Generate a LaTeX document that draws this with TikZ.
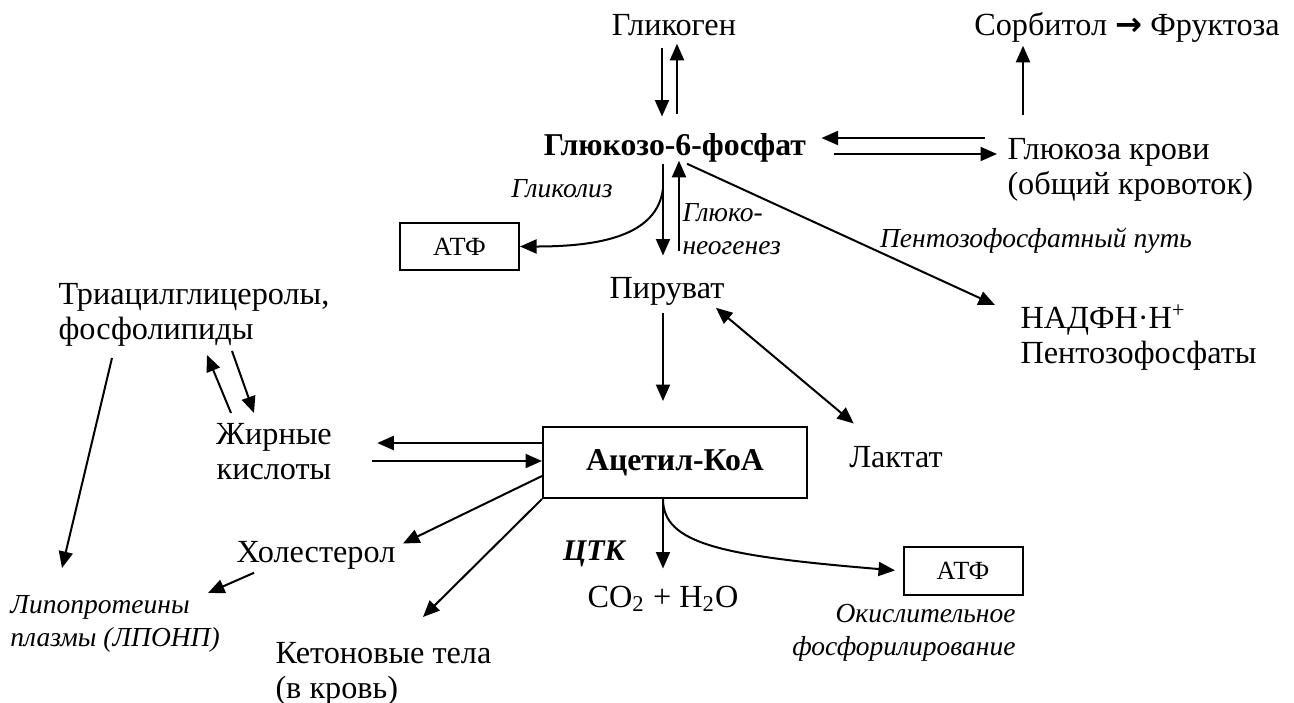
\documentclass[tikz,border=0pt]{standalone}
\usepackage{fontspec}
\setmainfont{Liberation Serif}
\newfontfamily\arrowfont{DejaVu Sans}
\usetikzlibrary{arrows.meta,calc}

\begin{document}
\begin{tikzpicture}[
    x=0.4pt, y=-0.4pt,
    line cap=butt, line join=miter,
    txt/.style={inner sep=0pt, anchor=base, text height=8.6pt, text depth=2.5pt,
        font=\fontsize{12.9}{14}\selectfont},
    multi/.style={inner sep=0pt, anchor=north west, align=left,
        font=\fontsize{12.9}{14}\selectfont},
    note/.style={inner sep=0pt, font=\fontsize{11}{13}\selectfont\itshape},
    atpbox/.style={draw, line width=0.8pt, inner sep=0pt, minimum width=47.6pt,
        minimum height=19pt, font=\fontsize{10.5}{12}\selectfont},
    arr/.style={line width=0.8pt, -{Triangle[length=6.6pt,width=5.6pt]}},
    darr/.style={line width=0.8pt, {Triangle[length=6.6pt,width=5.6pt]}-{Triangle[length=6.6pt,width=5.6pt]}},
]
\useasboundingbox (0,0) rectangle (1294,702);

% Metabolites
\node[txt] (gly) at (674,35) {Гликоген};
\node[txt] (sorb) at (1127,35) {Сорбитол {\arrowfont\bfseries →} Фруктоза};
\node[txt, font=\fontsize{12.7}{14}\selectfont\bfseries] (g6p) at (675,155) {Глюкозо-6-фосфат};
\node[multi] (glc) at (1007,138) {Глюкоза крови\\(общий кровоток)};
\node[txt] (pyr) at (667,298) {Пируват};
\node[multi] (nadph) at (1020,304) {НАДФН·Н\textsuperscript{+}\\Пентозофосфаты};
\node[txt] (lac) at (896,467) {Лактат};
\node[multi] (tag) at (58,283) {Триацилглицеролы,\\фосфолипиды};
\node[multi, anchor=north, align=center] (fa) at (274,423) {Жирные\\кислоты};
\node[draw, line width=0.8pt, minimum width=105.6pt, minimum height=28.4pt,
      font=\fontsize{12.7}{14}\selectfont\bfseries] (acoa) at (675,462.5) {Ацетил-КоА};
\node[txt] (chol) at (316,562) {Холестерол};
\node[multi] (keto) at (275,642) {Кетоновые тела\\(в кровь)};
\node[txt] (co2) at (663,607) {CO\textsubscript{2} + H\textsubscript{2}O};
\node[atpbox] (atp1) at (459.5,246.5) {АТФ};
\node[atpbox] (atp2) at (963,571) {АТФ};

% Pathway labels
\node[note, anchor=base] (glyc) at (562,197) {Гликолиз};
\node[note, anchor=north west, align=left] (gng) at (682,203) {Глюко-\\неогенез};
\node[note, anchor=base] (ppp) at (1036,247) {Пентозофосфатный путь};
\node[note, anchor=north west, align=left] (lipo) at (10,595) {Липопротеины\\плазмы (ЛПОНП)};
\node[note, anchor=base, font=\fontsize{12}{14}\selectfont\bfseries\itshape] (ctk) at (594,560) {ЦТК};
\node[note, anchor=north east, align=right] (oxph) at (1016,604) {Окислительное\\фосфорилирование};

% Glycogen <-> G6P
\draw[arr] ($(gly.south -| 662,0)+(0,6)$) -- ($(g6p.north -| 662,0)+(0,-16.5)$);
\draw[arr] ($(g6p.north -| 677,0)+(0,-19.5)$) -- ($(gly.south -| 677,0)+(0,2)$);

% Sorbitol
\draw[arr] ($(glc.north -| 1023,0)+(0,-23)$) -- ($(sorb.south -| 1023,0)+(0,4)$);

% G6P <-> blood glucose
\draw[arr] ($(glc.west |- 0,138)+(-22,0)$) -- ($(g6p.east |- 0,138)+(15,0)$);
\draw[arr] ($(g6p.east |- 0,154)+(27,0)$) -- ($(glc.west |- 0,154)+(-10,0)$);

% G6P <-> pyruvate
\draw[arr] ($(g6p.south -| 663,0)+(0,2)$) -- ($(pyr.north -| 663,0)+(0,-20.5)$);
\draw[arr] ($(pyr.north -| 679,0)+(0,-25.5)$) -- ($(g6p.south -| 679,0)+(0,-1)$);

% Glycolysis -> ATP
\draw[arr] ($(g6p.south -| 663,0)+(0,27)$) .. controls +(-6,47) and +(80,0) .. (atp1.east);

% Pentose phosphate pathway
\draw[arr] ($(g6p.south -| 687,0)+(0,2)$) -- ($(nadph.north west)+(-25,1)$);

% Pyruvate
\draw[arr] ($(pyr.south -| 663,0)+(0,8)$) -- ($(acoa.north -| 663,0)+(0,-25)$);
\draw[darr] ($(pyr.south east)+(-9,3)$) -- ($(lac.north west)+(5,-21.5)$);

% Fatty acids
\draw[arr] (acoa.west |- 0,443) -- ($(fa.east |- 0,443)+(45,0)$);
\draw[arr] ($(fa.east |- 0,461)+(40,0)$) -- (acoa.west |- 0,461);
\draw[arr] ($(fa.north -| 231,0)+(0,-10)$) -- ($(tag.south -| 207,0)+(0,8)$);
\draw[arr] ($(tag.south -| 232,0)+(0,4)$) -- ($(fa.north -| 254,0)+(0,-10)$);
\draw[arr] ($(tag.south -| 112,0)+(0,11)$) -- ($(lipo.north -| 62,0)+(0,-27)$);

% Acetyl-CoA products
\draw[arr] (acoa.west |- 0,476) -- ($(chol.north east)+(7,3.5)$);
\draw[arr] (acoa.south west) -- ($(keto.north -| 423,0)+(0,-25)$);
\draw[arr] ($(chol.south west)+(18,4)$) -- ($(lipo.north -| 208,0)+(0,-2)$);
\draw[arr] (acoa.south -| 663,0) -- ($(co2.north -| 663,0)+(0,-16.5)$);
\draw[arr, shorten >=3pt] (acoa.south -| 663,0) .. controls +(0,45) and +(-180,-15) .. (atp2.west);

\end{tikzpicture}
\end{document}
